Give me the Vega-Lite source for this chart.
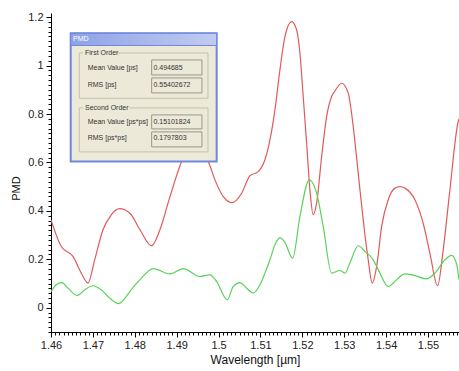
{
  "$schema": "https://vega.github.io/schema/vega-lite/v6.json",
  "width": 408,
  "height": 319,
  "autosize": {"type": "none"},
  "padding": {"left": 51, "top": 13, "right": 0, "bottom": 39},
  "background": "white",
  "config": {
    "view": {"stroke": null},
    "axis": {
      "domainColor": "#000",
      "labelFont": "Liberation Sans",
      "labelFontSize": 11,
      "labelColor": "#222",
      "titleFont": "Liberation Sans",
      "titleFontSize": 12,
      "titleFontWeight": "normal",
      "titleColor": "#111",
      "grid": false,
      "labelOverlap": false,
      "labelBound": false,
      "labelFlush": false
    }
  },
  "datasets": {
    "red": [
      {"x": 1.46, "y": 0.363}, {"x": 1.46246, "y": 0.253}, {"x": 1.46525, "y": 0.212},
      {"x": 1.46723, "y": 0.143}, {"x": 1.46883, "y": 0.102}, {"x": 1.47043, "y": 0.198},
      {"x": 1.47241, "y": 0.322}, {"x": 1.47439, "y": 0.384}, {"x": 1.4764, "y": 0.409},
      {"x": 1.47885, "y": 0.39}, {"x": 1.48124, "y": 0.322}, {"x": 1.48403, "y": 0.256},
      {"x": 1.48601, "y": 0.322}, {"x": 1.4884, "y": 0.459}, {"x": 1.49119, "y": 0.604},
      {"x": 1.4928, "y": 0.66}, {"x": 1.4945, "y": 0.68}, {"x": 1.4962, "y": 0.64},
      {"x": 1.49771, "y": 0.597}, {"x": 1.49914, "y": 0.528}, {"x": 1.50112, "y": 0.459},
      {"x": 1.50327, "y": 0.434}, {"x": 1.50551, "y": 0.473}, {"x": 1.50749, "y": 0.545},
      {"x": 1.50947, "y": 0.562}, {"x": 1.51107, "y": 0.611}, {"x": 1.51227, "y": 0.693},
      {"x": 1.51346, "y": 0.817}, {"x": 1.51465, "y": 0.982}, {"x": 1.51585, "y": 1.119},
      {"x": 1.51745, "y": 1.181}, {"x": 1.51864, "y": 1.147}, {"x": 1.51943, "y": 1.051},
      {"x": 1.52021, "y": 0.872}, {"x": 1.52103, "y": 0.679}, {"x": 1.52181, "y": 0.487},
      {"x": 1.5226, "y": 0.384}, {"x": 1.52341, "y": 0.432}, {"x": 1.52461, "y": 0.624},
      {"x": 1.5258, "y": 0.789}, {"x": 1.52699, "y": 0.872}, {"x": 1.52778, "y": 0.895},
      {"x": 1.52938, "y": 0.927}, {"x": 1.53096, "y": 0.886}, {"x": 1.53215, "y": 0.748},
      {"x": 1.53334, "y": 0.556}, {"x": 1.53453, "y": 0.363}, {"x": 1.53573, "y": 0.198},
      {"x": 1.53668, "y": 0.102}, {"x": 1.53773, "y": 0.17}, {"x": 1.53893, "y": 0.335},
      {"x": 1.5405, "y": 0.446}, {"x": 1.5421, "y": 0.494}, {"x": 1.5433, "y": 0.5},
      {"x": 1.54449, "y": 0.494}, {"x": 1.54687, "y": 0.446}, {"x": 1.54885, "y": 0.349},
      {"x": 1.55045, "y": 0.226}, {"x": 1.55229, "y": 0.091}, {"x": 1.55363, "y": 0.239},
      {"x": 1.55523, "y": 0.487}, {"x": 1.55721, "y": 0.769}, {"x": 1.5574, "y": 0.78}
    ],
    "green": [
      {"x": 1.46, "y": 0.067}, {"x": 1.46126, "y": 0.095}, {"x": 1.46263, "y": 0.104},
      {"x": 1.46406, "y": 0.081}, {"x": 1.46628, "y": 0.051}, {"x": 1.46804, "y": 0.074},
      {"x": 1.47002, "y": 0.091}, {"x": 1.472, "y": 0.074}, {"x": 1.47401, "y": 0.04},
      {"x": 1.47616, "y": 0.017}, {"x": 1.47797, "y": 0.047}, {"x": 1.47885, "y": 0.068},
      {"x": 1.48124, "y": 0.116}, {"x": 1.48442, "y": 0.162}, {"x": 1.4884, "y": 0.14},
      {"x": 1.49158, "y": 0.162}, {"x": 1.49556, "y": 0.129}, {"x": 1.49795, "y": 0.136},
      {"x": 1.49955, "y": 0.108}, {"x": 1.50208, "y": 0.033}, {"x": 1.50351, "y": 0.088},
      {"x": 1.50511, "y": 0.104}, {"x": 1.50671, "y": 0.081}, {"x": 1.50828, "y": 0.061},
      {"x": 1.50988, "y": 0.095}, {"x": 1.51107, "y": 0.143}, {"x": 1.51227, "y": 0.198},
      {"x": 1.51346, "y": 0.26}, {"x": 1.51465, "y": 0.29}, {"x": 1.51585, "y": 0.27},
      {"x": 1.51768, "y": 0.205}, {"x": 1.51943, "y": 0.377}, {"x": 1.52165, "y": 0.528},
      {"x": 1.52341, "y": 0.473}, {"x": 1.52499, "y": 0.335}, {"x": 1.52699, "y": 0.143},
      {"x": 1.52897, "y": 0.154}, {"x": 1.53017, "y": 0.143}, {"x": 1.53136, "y": 0.185},
      {"x": 1.53334, "y": 0.256}, {"x": 1.53494, "y": 0.233}, {"x": 1.53692, "y": 0.198},
      {"x": 1.53852, "y": 0.143}, {"x": 1.5405, "y": 0.088}, {"x": 1.54251, "y": 0.116},
      {"x": 1.54449, "y": 0.14}, {"x": 1.54687, "y": 0.133}, {"x": 1.54967, "y": 0.119},
      {"x": 1.55165, "y": 0.143}, {"x": 1.55403, "y": 0.198}, {"x": 1.55563, "y": 0.216},
      {"x": 1.55683, "y": 0.18}, {"x": 1.5574, "y": 0.116}
    ],
    "window": [{"x": 1.4647, "x2": 1.49955, "y": 0.6036, "y2": 1.1333}],
    "titlebar": [{"x": 1.4647, "x2": 1.49955, "y": 1.0829, "y2": 1.1333}],
    "groups": [
      {"x": 1.46675, "x2": 1.49747, "y": 0.8651, "y2": 1.052},
      {"x": 1.46675, "x2": 1.49747, "y": 0.6436, "y2": 0.8251}
    ],
    "labelbg": [
      {"x": 1.46764, "x2": 1.47575, "y": 1.031, "y2": 1.073},
      {"x": 1.46764, "x2": 1.47873, "y": 0.8045, "y2": 0.8457}
    ],
    "boxes": [
      {"x": 1.48403, "x2": 1.49604, "y": 0.9612, "y2": 1.0231},
      {"x": 1.48403, "x2": 1.49604, "y": 0.887, "y2": 0.9489},
      {"x": 1.48403, "x2": 1.49604, "y": 0.7385, "y2": 0.7962},
      {"x": 1.48403, "x2": 1.49604, "y": 0.6642, "y2": 0.7261}
    ],
    "texts": [
      {"x": 1.46811, "y": 1.052, "label": "First Order"},
      {"x": 1.46876, "y": 0.9901, "label": "Mean Value [ps]"},
      {"x": 1.46876, "y": 0.92, "label": "RMS [ps]"},
      {"x": 1.46811, "y": 0.8251, "label": "Second Order"},
      {"x": 1.46876, "y": 0.7673, "label": "Mean Value [ps*ps]"},
      {"x": 1.46876, "y": 0.7013, "label": "RMS [ps*ps]"},
      {"x": 1.48446, "y": 0.9901, "label": "0.494685"},
      {"x": 1.48446, "y": 0.92, "label": "0.55402672"},
      {"x": 1.48446, "y": 0.7673, "label": "0.15101824"},
      {"x": 1.48446, "y": 0.7013, "label": "0.1797803"}
    ],
    "wintitle": [{"x": 1.46525, "y": 1.1077, "label": "PMD"}]
  },
  "layer": [
    {
      "encoding": {
        "x": {
          "field": "x",
          "type": "quantitative",
          "scale": {"domain": [1.46, 1.5574], "nice": false, "zero": false},
          "axis": {
            "title": "Wavelength [µm]",
            "values": [1.46,1.47,1.48,1.49,1.5,1.51,1.52,1.53,1.54,1.55],
            "format": "~g",
            "ticks": true,
            "tickColor": "#000000",
            "tickWidth": 1,
            "tickOpacity": 1,
            "tickSize": 5,
            "labelPadding": 2,
            "titlePadding": 4
          }
        },
        "y": {
          "field": "y",
          "type": "quantitative",
          "scale": {"domain": [-0.1, 1.217], "nice": false, "zero": false},
          "axis": {
            "title": "PMD",
            "values": [0,0.2,0.4,0.6,0.8,1,1.2],
            "format": "~g",
            "ticks": true,
            "tickColor": "#000000",
            "tickWidth": 1,
            "tickOpacity": 1,
            "tickSize": 5,
            "labelPadding": 3,
            "titleX": -30,
            "titleY": 175,
            "titleFontSize": 11
          }
        }
      },
      "layer": [
        {
          "data": {"name": "red"},
          "mark": {"type": "line", "color": "#e05a5a", "strokeWidth": 1.2, "interpolate": "monotone", "clip": true}
        },
        {
          "data": {"name": "green"},
          "mark": {"type": "line", "color": "#5ad25a", "strokeWidth": 1.2, "interpolate": "monotone", "clip": true}
        },
        {
          "data": {"name": "window"},
          "mark": {"type": "rect", "fill": "#ECE9D8", "stroke": "#6f87de", "strokeWidth": 2},
          "encoding": {"x2": {"field": "x2"}, "y2": {"field": "y2"}}
        },
        {
          "data": {"name": "titlebar"},
          "mark": {"type": "rect", "stroke": "#6f87de", "strokeWidth": 1,
            "fill": {"gradient": "linear", "x1": 0, "y1": 0, "x2": 1, "y2": 0, "stops": [{"offset": 0, "color": "#8ea3e6"}, {"offset": 1, "color": "#c2ccf1"}]}},
          "encoding": {"x2": {"field": "x2"}, "y2": {"field": "y2"}}
        },
        {
          "data": {"name": "groups"},
          "mark": {"type": "rect", "fill": null, "stroke": "#c4c0ad", "strokeWidth": 1},
          "encoding": {"x2": {"field": "x2"}, "y2": {"field": "y2"}}
        },
        {
          "data": {"name": "labelbg"},
          "mark": {"type": "rect", "fill": "#ECE9D8"},
          "encoding": {"x2": {"field": "x2"}, "y2": {"field": "y2"}}
        },
        {
          "data": {"name": "boxes"},
          "mark": {"type": "rect", "fill": "#ECE9D8", "stroke": "#9a978b", "strokeWidth": 1},
          "encoding": {"x2": {"field": "x2"}, "y2": {"field": "y2"}}
        },
        {
          "data": {"name": "texts"},
          "mark": {"type": "text", "align": "left", "baseline": "middle", "font": "Liberation Sans", "fontSize": 7, "color": "#333"},
          "encoding": {"text": {"field": "label"}}
        },
        {
          "data": {"name": "wintitle"},
          "mark": {"type": "text", "align": "left", "baseline": "middle", "font": "Liberation Sans", "fontSize": 7, "color": "#ffffff"},
          "encoding": {"text": {"field": "label"}}
        }
      ]
    },
    {
      "data": {"name": "green"},
      "mark": {"type": "point", "opacity": 0},
      "encoding": {
        "x": {
          "field": "x",
          "type": "quantitative",
          "axis": {
            "orient": "bottom",
            "offset": 0,
            "title": null,
            "labels": false,
            "domain": false,
            "ticks": true,
            "tickColor": "#000000",
            "tickWidth": 1,
            "tickOpacity": 1,
            "tickSize": 3,
            "values": [1.46,1.461,1.462,1.463,1.464,1.465,1.466,1.467,1.468,1.469,1.47,1.471,1.472,1.473,1.474,1.475,1.476,1.477,1.478,1.479,1.48,1.481,1.482,1.483,1.484,1.485,1.486,1.487,1.488,1.489,1.49,1.491,1.492,1.493,1.494,1.495,1.496,1.497,1.498,1.499,1.5,1.501,1.502,1.503,1.504,1.505,1.506,1.507,1.508,1.509,1.51,1.511,1.512,1.513,1.514,1.515,1.516,1.517,1.518,1.519,1.52,1.521,1.522,1.523,1.524,1.525,1.526,1.527,1.528,1.529,1.53,1.531,1.532,1.533,1.534,1.535,1.536,1.537,1.538,1.539,1.54,1.541,1.542,1.543,1.544,1.545,1.546,1.547,1.548,1.549,1.55,1.551,1.552,1.553,1.554,1.555,1.556,1.557]
          }
        },
        "y": {
          "field": "y",
          "type": "quantitative",
          "axis": {
            "orient": "left",
            "offset": 0,
            "title": null,
            "labels": false,
            "domain": false,
            "ticks": true,
            "tickColor": "#000000",
            "tickWidth": 1,
            "tickOpacity": 1,
            "tickSize": 3,
            "values": [-0.1,-0.08,-0.06,-0.04,-0.02,0,0.02,0.04,0.06,0.08,0.1,0.12,0.14,0.16,0.18,0.2,0.22,0.24,0.26,0.28,0.3,0.32,0.34,0.36,0.38,0.4,0.42,0.44,0.46,0.48,0.5,0.52,0.54,0.56,0.58,0.6,0.62,0.64,0.66,0.68,0.7,0.72,0.74,0.76,0.78,0.8,0.82,0.84,0.86,0.88,0.9,0.92,0.94,0.96,0.98,1,1.02,1.04,1.06,1.08,1.1,1.12,1.14,1.16,1.18,1.2]
          }
        }
      }
    }
  ],
  "resolve": {"axis": {"x": "independent", "y": "independent"}}
}
